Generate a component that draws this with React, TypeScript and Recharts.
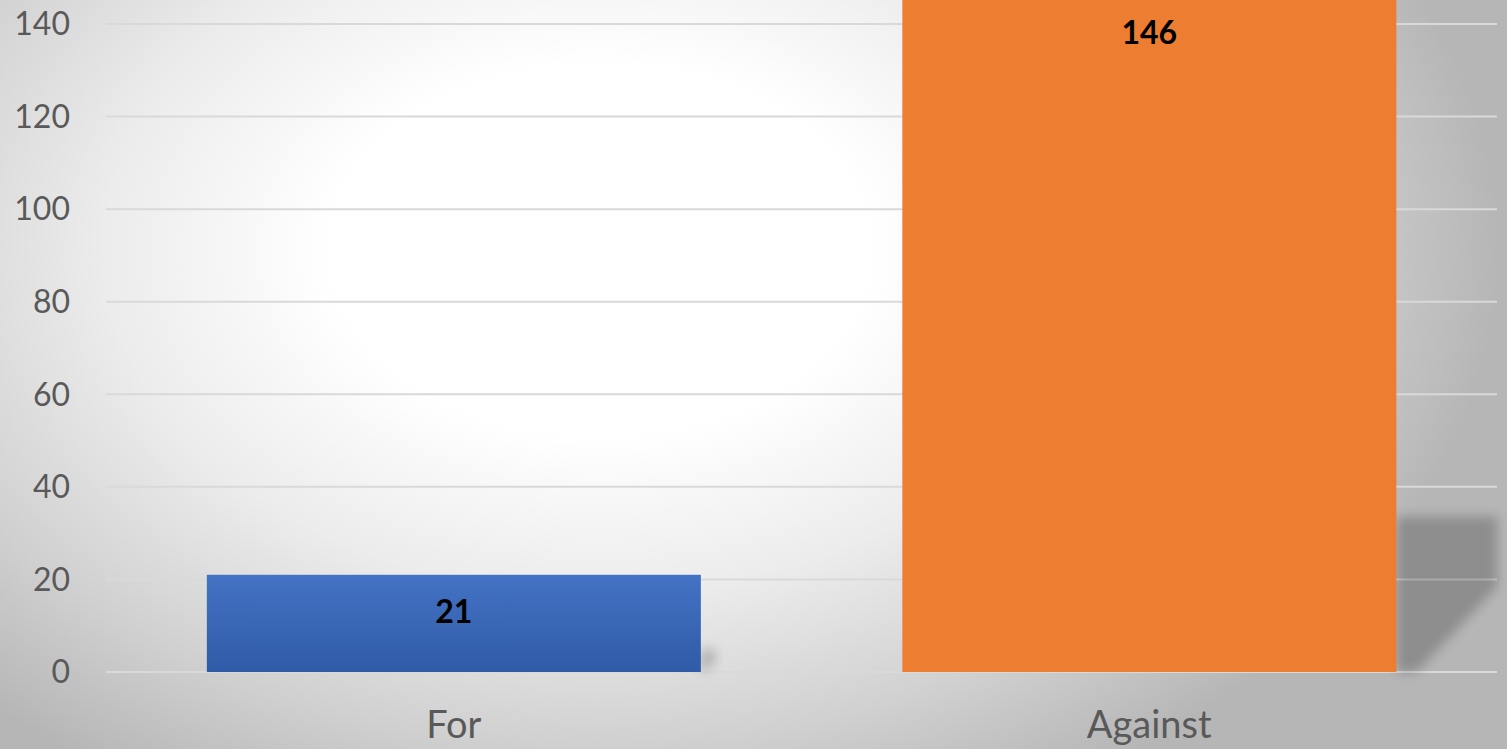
import React from "react";
import {
  BarChart,
  Bar,
  XAxis,
  YAxis,
  CartesianGrid,
  Cell,
  LabelList,
} from "recharts";

const categories = ["For", "Against"];
const votes = [21, 146];
const yTicks = [0, 20, 40, 60, 80, 100, 120, 140];

const data = categories.map((name, i) => ({ name, votes: votes[i] }));

const fills = ["url(#blueFill)", "#ED7D31"];

const ShadowBar = (props: any) => {
  const { x, y, width, height, fill } = props;
  const sh = height * 0.23;
  const sw = Math.min(height * 0.15, 101);
  const bx = x + width;
  const by = y + height;
  return (
    <g>
      <polygon
        points={`${bx},${by} ${bx},${by - sh} ${bx + sw},${by - sh} ${bx + sw},${by - sh * 0.55} ${bx + sw * 0.2},${by}`}
        fill="#000"
        opacity={0.22}
        filter="url(#blur)"
      />
      <rect x={x} y={y} width={width} height={height} fill={fill} />
    </g>
  );
};

const ValueLabel = (props: any) => {
  const { x, y, width, value } = props;
  return (
    <text
      x={x + width / 2}
      y={y + 48}
      textAnchor="middle"
      fontFamily="Lato"
      fontWeight={700}
      fontSize={32}
      fill="#000"
    >
      {value}
    </text>
  );
};

export default function App() {
  return (
    <div
      style={{
        position: "absolute",
        left: 0,
        top: 0,
        width: 1507,
        height: 749,
        overflow: "hidden",
        background:
          "radial-gradient(ellipse 900px 620px at 600px 250px, #ffffff 0%, #ffffff 30%, #ececec 55%, #d0d0d0 80%, #b6b6b6 100%)",
      }}
    >
      <div style={{ position: "absolute", left: 0, top: -80 }}>
        <BarChart
          width={1507}
          height={829}
          data={data}
          margin={{ top: 11.4, right: 10, left: 0, bottom: 17 }}
          barCategoryGap="14.5%"
        >
          <defs>
            <linearGradient id="blueFill" x1="0" y1="0" x2="0" y2="1">
              <stop offset="0%" stopColor="#4472C4" />
              <stop offset="100%" stopColor="#2F5BA7" />
            </linearGradient>
            <filter id="blur" x="-50%" y="-50%" width="200%" height="200%">
              <feGaussianBlur stdDeviation="6" />
            </filter>
          </defs>
          <CartesianGrid
            horizontal
            vertical={false}
            stroke="#d9d9d9"
            strokeWidth={2}
          />
          <XAxis
            dataKey="name"
            axisLine={false}
            tickLine={false}
            tickMargin={33}
            height={60}
            tick={{ fill: "#595959", fontSize: 38, fontFamily: "Lato" }}
          />
          <YAxis
            domain={[0, 160]}
            ticks={yTicks}
            width={106}
            axisLine={false}
            tickLine={false}
            tickMargin={30}
            tick={{ fill: "#595959", fontSize: 32, fontFamily: "Lato" }}
          />
          <Bar
            dataKey="votes"
            isAnimationActive={false}
            shape={<ShadowBar />}
          >
            {data.map((d, i) => (
              <Cell key={d.name} fill={fills[i]} />
            ))}
            <LabelList dataKey="votes" content={<ValueLabel />} />
          </Bar>
        </BarChart>
      </div>
    </div>
  );
}
